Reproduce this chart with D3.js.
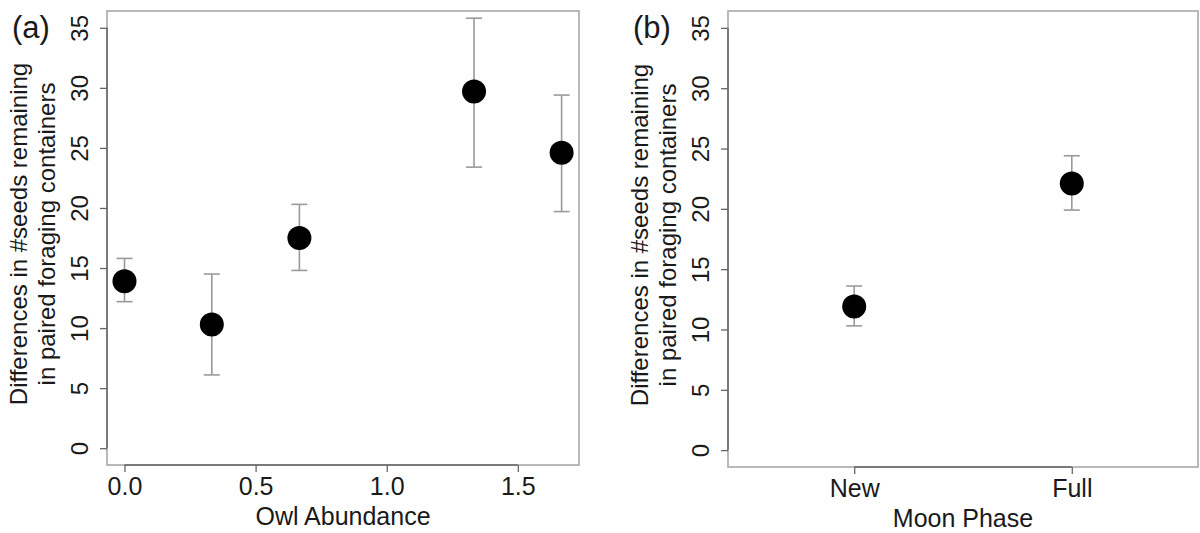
<!DOCTYPE html>
<html>
<head>
<meta charset="utf-8">
<script src="https://cdn.jsdelivr.net/npm/d3@7"></script>
<style>
  html, body { margin: 0; padding: 0; background: #fff; }
  svg { display: block; font-family: "Liberation Sans", Arial, Helvetica, sans-serif; }
</style>
</head>
<body>
<svg id="chart" width="1200" height="533"></svg>
<script>
// Panel (a): seed differences by owl abundance
const owlAbundance = [0, 0.333, 0.667, 1.333, 1.667];
const owlMean  = [13.9, 10.3, 17.5, 29.7, 24.6];
const owlLower = [12.2, 6.1, 14.8, 23.4, 19.7];
const owlUpper = [15.8, 14.5, 20.3, 35.8, 29.4];
const owlTicks = [0, 0.5, 1.0, 1.5];

// Panel (b): seed differences by moon phase
const moonPhases = ["New", "Full"];
const moonMean  = [11.9, 22.1];
const moonLower = [10.3, 19.9];
const moonUpper = [13.6, 24.4];

const yTicks = [0, 5, 10, 15, 20, 25, 30, 35];
const yTitle = ["Differences in #seeds remaining", "in paired foraging containers"];

const svg = d3.select("#chart");
const boxColor = "#a8a8a8";
const axisColor = "#666";
const barColor = "#9a9a9a";
const textColor = "#1a1a1a";
const hSize = 25;   // horizontal text
const vSize = 24;   // rotated text

function drawPanel(cfg) {
  const { left, right, top, bottom, x, xTickVals, xTickFmt, xTitle, tag, pts } = cfg;
  const y = d3.scaleLinear().domain([-1.4, 36.4]).range([bottom, top]);
  const g = svg.append("g");

  // plot frame
  g.append("rect")
    .attr("x", left).attr("y", top)
    .attr("width", right - left).attr("height", bottom - top)
    .attr("fill", "none").attr("stroke", boxColor).attr("stroke-width", 1.6);

  // y axis
  const yAxis = g.append("g").attr("transform", `translate(${left},0)`)
    .call(d3.axisLeft(y).tickValues(yTicks).tickSize(7).tickFormat(d3.format("d")));
  yAxis.select(".domain").remove();
  yAxis.selectAll(".tick line").attr("stroke", axisColor).attr("stroke-width", 1.3);
  yAxis.selectAll(".tick text")
    .attr("transform", "rotate(-90)")
    .attr("x", 0).attr("y", -19).attr("dy", 0)
    .attr("text-anchor", "middle")
    .attr("fill", textColor)
    .style("font-size", vSize + "px");
  yAxis.append("line")
    .attr("x1", 0).attr("x2", 0)
    .attr("y1", y(yTicks[0])).attr("y2", y(yTicks[yTicks.length - 1]))
    .attr("stroke", axisColor).attr("stroke-width", 1.5);

  // x axis
  const xAxis = g.append("g").attr("transform", `translate(0,${bottom})`)
    .call(d3.axisBottom(x).tickValues(xTickVals).tickSize(7).tickFormat(xTickFmt));
  xAxis.select(".domain").remove();
  xAxis.selectAll(".tick line").attr("stroke", axisColor).attr("stroke-width", 1.3);
  xAxis.selectAll(".tick text")
    .attr("y", 0).attr("dy", 0)
    .attr("transform", "translate(0,30)")
    .attr("fill", textColor)
    .style("font-size", hSize + "px");
  xAxis.append("line")
    .attr("y1", 0).attr("y2", 0)
    .attr("x1", x(xTickVals[0])).attr("x2", x(xTickVals[xTickVals.length - 1]))
    .attr("stroke", axisColor).attr("stroke-width", 1.5);

  // axis titles
  g.append("text")
    .attr("x", (left + right) / 2).attr("y", bottom + 60)
    .attr("text-anchor", "middle").attr("fill", textColor)
    .style("font-size", hSize + "px")
    .text(xTitle);

  const cy = (top + bottom) / 2 - 4;
  yTitle.forEach((line, i) => {
    g.append("text")
      .attr("transform", `translate(${left - 80 + i * 28},${cy}) rotate(-90)`)
      .attr("text-anchor", "middle").attr("fill", textColor)
      .style("font-size", vSize + "px")
      .text(line);
  });

  // panel tag
  g.append("text")
    .attr("x", left - 95).attr("y", top + 27)
    .attr("fill", textColor)
    .style("font-size", "31px")
    .text(tag);

  // error bars
  const eb = g.append("g").attr("stroke", barColor).attr("stroke-width", 1.6);
  pts.forEach(p => {
    const px = x(p.x);
    eb.append("line").attr("x1", px).attr("x2", px).attr("y1", y(p.lo)).attr("y2", y(p.hi));
    eb.append("line").attr("x1", px - 8).attr("x2", px + 8).attr("y1", y(p.lo)).attr("y2", y(p.lo));
    eb.append("line").attr("x1", px - 8).attr("x2", px + 8).attr("y1", y(p.hi)).attr("y2", y(p.hi));
  });

  // means
  g.append("g").selectAll("circle").data(pts).join("circle")
    .attr("cx", d => x(d.x)).attr("cy", d => y(d.m)).attr("r", 12)
    .attr("fill", "#000");
}

// panel (a)
const xA = d3.scaleLinear().domain([-0.0667, 1.7333]).range([107, 579]);
drawPanel({
  left: 107, right: 579, top: 11, bottom: 465,
  x: xA, xTickVals: owlTicks, xTickFmt: d3.format(".1f"),
  xTitle: "Owl Abundance", tag: "(a)",
  pts: owlAbundance.map((v, i) => ({ x: v, m: owlMean[i], lo: owlLower[i], hi: owlUpper[i] }))
});

// panel (b): categories placed at 1 and 2
const xB = d3.scaleLinear().domain([0.42, 2.58]).range([728, 1198]);
drawPanel({
  left: 728, right: 1198, top: 11, bottom: 467,
  x: xB, xTickVals: [1, 2], xTickFmt: d => moonPhases[d - 1],
  xTitle: "Moon Phase", tag: "(b)",
  pts: moonPhases.map((v, i) => ({ x: i + 1, m: moonMean[i], lo: moonLower[i], hi: moonUpper[i] }))
});
</script>
</body>
</html>
